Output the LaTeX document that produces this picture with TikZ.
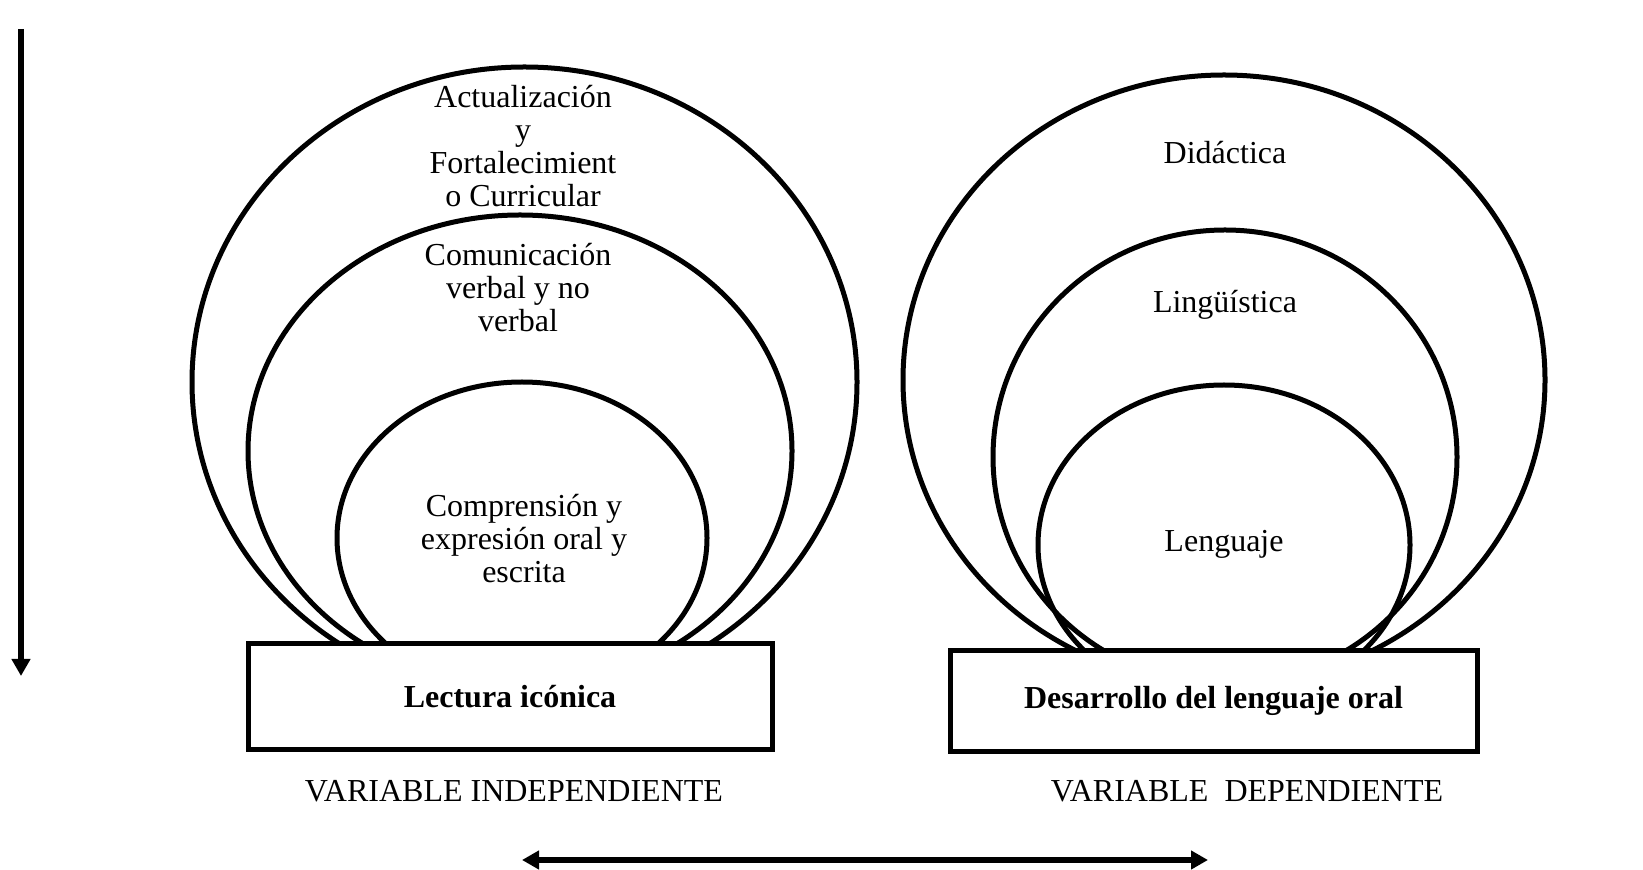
\documentclass[tikz,border=0pt]{standalone}
\usepackage{fontspec}
\setmainfont{Liberation Serif}
\usetikzlibrary{shapes.geometric,arrows.meta}
\begin{document}
\begin{tikzpicture}[x=0.5pt,y=-0.5pt,
  ring/.style={draw,ellipse,line width=2.5pt,inner sep=0pt},
  lbl/.style={font=\fontsize{16}{16.5}\selectfont,align=center,inner sep=0pt},
  varbox/.style={draw,fill=white,line width=2.5pt,inner sep=0pt,font=\fontsize{16}{16.5}\selectfont\bfseries},
  arr/.style={line width=3pt},
  tip/.tip={Triangle[length=8.5pt,width=9pt]}]
\useasboundingbox (0,0) rectangle (1643,870);
% left ellipses
\node[ring,minimum width=332.5pt,minimum height=315pt] (lo) at (524.5,382) {};
\node[ring,minimum width=272pt,minimum height=236pt] (lm) at (520,451) {};
\node[ring,minimum width=185pt,minimum height=156pt] (li) at (522,538) {};
% right ellipses
\node[ring,minimum width=321pt,minimum height=305pt] (ro) at (1224,380) {};
\node[ring,minimum width=232pt,minimum height=227pt] (rm) at (1225,457) {};
\node[ring,minimum width=186pt,minimum height=160pt] (ri) at (1224,545) {};
% boxes
\node[varbox,minimum width=262pt,minimum height=52.5pt] (bl) at (510,696.5) {Lectura icónica};
\node[varbox,minimum width=263.5pt,minimum height=50pt] (br) at (1213.5,701) {Desarrollo del lenguaje oral};
% texts
\node[lbl] (tlo) at (523,146) {Actualización\\y\\Fortalecimient\\o Curricular};
\node[lbl] (tlm) at (518,288) {Comunicación\\verbal y no\\verbal};
\node[lbl] (tli) at (524,539) {Comprensión y\\expresión oral y\\escrita};
\node[lbl] (tro) at (1225,153) {Didáctica};
\node[lbl] (trm) at (1225,305) {Lingüística};
\node[lbl] (tri) at (1224,544) {Lenguaje};
\node[lbl] (vi) at (514,791) {VARIABLE INDEPENDIENTE};
\node[lbl] (vd) at (1247,791) {VARIABLE\ \ DEPENDIENTE};
% arrows
\coordinate (vt) at (21,29);
\coordinate (vb) at (21,676);
\draw[arr,-tip] (vt) -- (vb);
\coordinate (ha) at (522,860);
\coordinate (hb) at (1208,860);
\draw[arr,tip-tip] (ha) -- (hb);
\end{tikzpicture}
\end{document}
